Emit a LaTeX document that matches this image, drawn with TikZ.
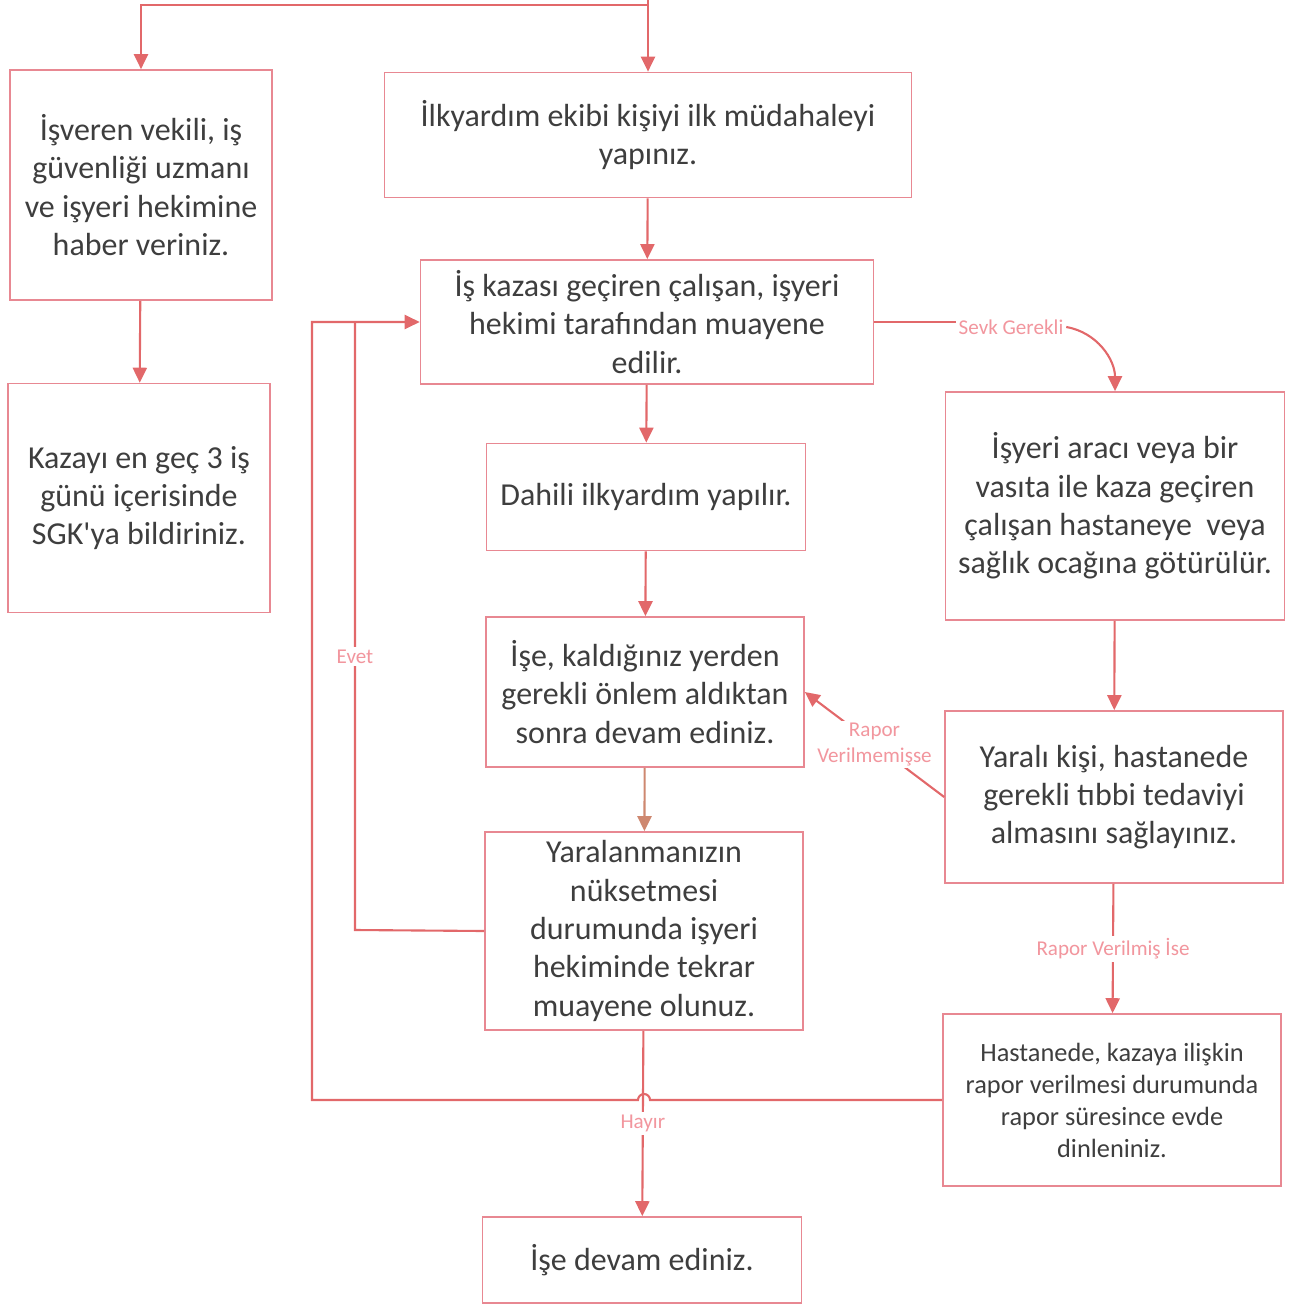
\documentclass[tikz,border=0pt]{standalone}
\usepackage{fontspec}
\setmainfont{Carlito}
\usetikzlibrary{arrows.meta}
\definecolor{lineC}{RGB}{226,104,106}
\definecolor{boxC}{RGB}{232,136,146}
\definecolor{lblC}{RGB}{242,150,158}
\definecolor{txtC}{RGB}{62,62,62}
\definecolor{brownC}{RGB}{206,136,112}

\begin{document}
\begin{tikzpicture}[x=0.02cm, y=-0.02cm,
    box/.style={draw=boxC, line width=1pt, align=center, text=txtC, inner sep=2pt, font=\fontsize{18.2}{21.8}\selectfont},
    conn/.style={draw=lineC, line width=1.2pt, -{Triangle[width=8pt,length=8.5pt]}},
    lbl/.style={text=lblC, fill=white, inner sep=1.5pt, align=center, font=\fontsize{12}{14.5}\selectfont}]
    \useasboundingbox (0,0) rectangle (1297,1307);

    \node[box, minimum width=5.24cm, minimum height=4.6cm] (A) at (141,185) {İşveren vekili, iş\\güvenliği uzmanı\\ve işyeri hekimine\\haber veriniz.};
    \node[box, minimum width=5.24cm, minimum height=4.58cm] (B) at (139,498) {Kazayı en geç 3 iş\\günü içerisinde\\SGK\textquotesingle ya bildiriniz.};
    \node[box, minimum width=10.54cm, minimum height=2.5cm] (C) at (648,135) {İlkyardım ekibi kişiyi ilk müdahaleyi\\yapınız.};
    \node[box, minimum width=9.06cm, minimum height=2.48cm] (D) at (647,322) {İş kazası geçiren çalışan, işyeri\\hekimi tarafından muayene\\edilir.};
    \node[box, minimum width=6.38cm, minimum height=2.14cm] (E) at (646,497) {Dahili ilkyardım yapılır.};
    \node[box, minimum width=6.36cm, minimum height=3cm] (F) at (645,692) {İşe, kaldığınız yerden\\gerekli önlem aldıktan\\sonra devam ediniz.};
    \node[box, minimum width=6.36cm, minimum height=3.96cm] (G) at (644,931) {Yaralanmanızın\\nüksetmesi\\durumunda işyeri\\hekiminde tekrar\\muayene olunuz.};
    \node[box, minimum width=6.38cm, minimum height=1.72cm] (H) at (642,1260) {İşe devam ediniz.};
    \node[box, minimum width=6.78cm, minimum height=4.56cm] (I) at (1115,506) {İşyeri aracı veya bir\\vasıta ile kaza geçiren\\çalışan hastaneye\ \ veya\\sağlık ocağına götürülür.};
    \node[box, minimum width=6.76cm, minimum height=3.44cm] (J) at (1114,797) {Yaralı kişi, hastanede\\gerekli tıbbi tedaviyi\\almasını sağlayınız.};
    \node[box, minimum width=6.76cm, minimum height=3.44cm, font=\fontsize{15}{18.2}\selectfont] (K) at (1112,1100) {Hastanede, kazaya ilişkin\\rapor verilmesi durumunda\\rapor süresince evde\\dinleniniz.};

    \coordinate (start) at (648,-4);
    \coordinate (topbar) at (648,5);
    \coordinate (evb) at (355,930);
    \coordinate (loop) at (312,1100);
    \coordinate (hop) at (G.south |- K.west);

    \draw[conn] (start) -- (C);
    \draw[conn] (topbar) -| (A);
    \draw[conn] (A) -- (B);
    \draw[conn] (C) -- (D);
    \draw[conn] (D) -- (E);
    \draw[conn] (E) -- (F);
    \draw[conn, draw=brownC] (F) -- (G);
    \draw[conn] (G) -- node[lbl]{Hayır} (H);
    \draw[conn] (I) -- (J);
    \draw[conn] (J) -- node[lbl]{Rapor Verilmiş İse} (K);
    \draw[conn] (J.west) -- node[lbl]{Rapor\\Verilmemişse} (F.east);

    \node[lbl] (sevk) at (1011,327) {Sevk Gerekli};
    \draw[draw=lineC, line width=1.2pt] (D.east) -- (sevk.west |- D.east);
    \draw[conn] (sevk.east) to[out=-10, in=90] (I.north);

    \draw[conn] (K.west) -- ([xshift=0.12cm]hop) arc[start angle=0, end angle=180, radius=0.12cm] -- (loop) |- (D.west);
    \draw[draw=lineC, line width=1.2pt] (G.west) -- (evb) -- node[lbl, pos=0.45]{Evet} (D.west -| evb);
\end{tikzpicture}
\end{document}
